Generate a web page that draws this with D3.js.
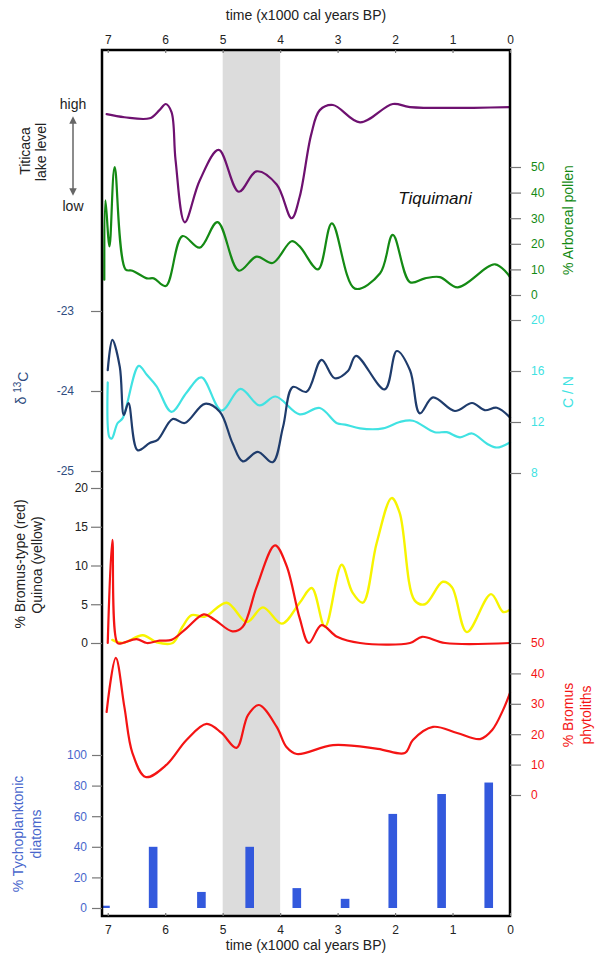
<!DOCTYPE html>
<html>
<head>
<meta charset="utf-8">
<script src="https://cdn.jsdelivr.net/npm/d3@7"></script>
<style>
  body { margin: 0; background: #fff; }
  svg { font-family: "Liberation Sans", Arial, sans-serif; }
</style>
</head>
<body>
<div id="chart"></div>
<script>
// ages in ka (x1000 cal years BP)
const timeTicks = [7, 6, 5, 4, 3, 2, 1, 0];
const shadeBand = [5, 4];

// Titicaca lake level (0 = low, 1 = high)
const lakeAge = [7.02, 6.71, 6.27, 6.10, 5.99, 5.89, 5.82, 5.66, 5.40, 5.07, 4.72, 4.41, 4.06, 3.80, 3.66, 3.46, 3.31, 3.08, 2.61, 2.04, 1.74, 0];
const lakeLevel = [0.90, 0.87, 0.86, 0.94, 1.0, 0.92, 0.45, -0.16, 0.25, 0.55, 0.14, 0.34, 0.21, -0.12, 0.09, 0.70, 0.94, 0.99, 0.82, 1.0, 0.97, 0.97];

// % arboreal pollen
const pollenAge = [7.06, 7.04, 6.97, 6.88, 6.69, 6.57, 6.32, 6.20, 5.99, 5.70, 5.40, 5.09, 4.72, 4.41, 4.13, 3.80, 3.66, 3.34, 3.10, 2.70, 2.26, 2.04, 1.74, 1.48, 1.22, 0.91, 0.26, 0];
const pollen = [6, 37, 19, 50, 10, 9.5, 6.5, 6.5, 3.5, 23, 18.5, 28.5, 9.5, 15, 12.5, 21, 19, 10, 28, 2.5, 8.5, 23.5, 5, 6.5, 7, 3, 12, 7];
const pollenTicks = [0, 10, 20, 30, 40, 50];

// d13C
const d13Age = [7.00, 6.92, 6.79, 6.72, 6.64, 6.48, 6.27, 6.13, 5.87, 5.66, 5.31, 5.05, 4.83, 4.65, 4.39, 4.13, 3.95, 3.78, 3.54, 3.28, 3.05, 2.82, 2.68, 2.18, 1.97, 1.74, 1.57, 1.34, 0.96, 0.66, 0.44, 0.23, 0];
const d13 = [-23.74, -23.36, -23.70, -24.30, -24.15, -24.74, -24.65, -24.61, -24.35, -24.40, -24.16, -24.26, -24.65, -24.88, -24.76, -24.89, -24.45, -23.95, -24.01, -23.61, -23.84, -23.75, -23.56, -23.98, -23.50, -23.74, -24.28, -24.08, -24.25, -24.15, -24.24, -24.21, -24.33];
const d13Ticks = [-23, -24, -25];

// C/N
const cnAge = [7.00, 6.97, 6.93, 6.83, 6.74, 6.46, 6.32, 6.15, 5.89, 5.63, 5.37, 5.02, 4.69, 4.36, 4.08, 3.66, 3.31, 3.01, 2.87, 2.61, 2.21, 1.92, 1.69, 1.31, 1.10, 0.87, 0.66, 0.40, 0.23, 0];
const cn = [15.1, 10.8, 10.7, 11.9, 12.3, 16.4, 15.7, 14.8, 12.8, 14.3, 15.5, 12.9, 14.6, 13.3, 14.0, 12.6, 13.1, 11.9, 11.8, 11.5, 11.5, 12.0, 12.1, 11.2, 11.2, 10.8, 11.1, 10.3, 10.0, 10.4];
const cnTicks = [8, 12, 16, 20];

// % Bromus-type pollen (red) and Quinoa (yellow)
const bromAge = [7.00, 6.92, 6.83, 6.74, 6.50, 6.32, 6.10, 5.89, 5.63, 5.33, 5.14, 4.83, 4.65, 4.41, 4.09, 3.89, 3.66, 3.50, 3.28, 3.01, 2.61, 1.74, 1.53, 1.13, 0];
const bromus = [0, 13.3, 0, 0, 0.5, 0, 0.3, 0.4, 1.9, 3.7, 3.0, 1.5, 2.1, 7.2, 12.6, 10.0, 3.2, 0, 2.3, 0.8, 0, 0, 0.8, 0, 0];
const quinoaAge = [6.92, 6.74, 6.39, 6.15, 5.87, 5.70, 5.54, 5.31, 4.93, 4.58, 4.30, 3.97, 3.66, 3.45, 3.22, 2.93, 2.74, 2.56, 2.32, 2.06, 1.92, 1.66, 1.48, 1.17, 1.01, 0.75, 0.33, 0.12, 0];
const quinoa = [0.4, 0, 1.0, 0.1, 0, 2.1, 3.6, 3.4, 5.2, 2.7, 4.6, 2.5, 5.2, 7.1, 2.1, 10.1, 6.5, 5.2, 12.9, 18.7, 16.8, 5.5, 5.0, 7.9, 7.2, 1.4, 6.3, 4.0, 4.3];
const pollenTypeTicks = [0, 5, 10, 15, 20];

// % Bromus phytoliths
const phytoAge = [7.02, 6.86, 6.71, 6.57, 6.34, 5.98, 5.63, 5.28, 5.02, 4.76, 4.56, 4.37, 4.06, 3.89, 3.71, 3.08, 2.30, 1.83, 1.69, 1.34, 0.92, 0.52, 0.31, 0.12, 0];
const phyto = [27.3, 45.1, 28.9, 13.8, 5.9, 9.9, 18.1, 23.4, 20.4, 15.5, 26.3, 29.6, 22.4, 15.8, 13.5, 16.4, 15.2, 13.8, 18.1, 22.4, 20.4, 18.4, 21.4, 28.0, 33.6];
const phytoTicks = [0, 10, 20, 30, 40, 50];

// % Tychoplanktonic diatoms (bars)
const diatomAge = [7.04, 6.21, 5.37, 4.53, 3.71, 2.87, 2.04, 1.19, 0.37];
const diatoms = [1.5, 40, 10.5, 40, 13, 6, 61.5, 74.5, 82];
const diatomTicks = [0, 20, 40, 60, 80, 100];

const W = 595, H = 955;
const frame = {left: 102, right: 510, top: 50, bottom: 916};

const svg = d3.select("#chart").append("svg")
    .attr("width", W)
    .attr("height", H);

const x = d3.scaleLinear().domain([7.1, 0]).range([frame.left, frame.right]);

// one y scale per record
const yLake = d3.scaleLinear().domain([0, 1]).range([206, 104]);
const yPollen = d3.scaleLinear().domain([0, 50]).range([295, 167]);
const yD13 = d3.scaleLinear().domain([-25, -23]).range([471, 311]);
const yCN = d3.scaleLinear().domain([8, 20]).range([473, 320]);
const yBrom = d3.scaleLinear().domain([0, 20]).range([643, 488]);
const yPhyto = d3.scaleLinear().domain([0, 50]).range([795, 643]);
const yDiat = d3.scaleLinear().domain([0, 100]).range([908, 755]);

const colors = {
    lake: "#6e1170",
    pollen: "#148a14",
    d13: "#1f3c6c",
    d13Text: "#2f4d80",
    cn: "#40e2e2",
    red: "#f41414",
    yellow: "#f7f400",
    diatom: "#3359dd",
    diatomText: "#4866cc",
    tick: "#777"
};

// plain hyphen for negatives, like the original
const plain = d => String(d);

// shaded interval 5-4 ka
svg.append("rect")
    .attr("x", x(shadeBand[0]))
    .attr("y", frame.top)
    .attr("width", x(shadeBand[1]) - x(shadeBand[0]))
    .attr("height", frame.bottom - frame.top)
    .attr("fill", "#dcdcdc");

function drawCurve(ages, values, yScale, color, width) {
    const line = d3.line()
        .x(d => x(d[0]))
        .y(d => yScale(d[1]))
        .curve(d3.curveCatmullRom.alpha(0.5));
    svg.append("path")
        .datum(d3.zip(ages, values))
        .attr("d", line)
        .attr("fill", "none")
        .attr("stroke", color)
        .attr("stroke-width", width)
        .attr("stroke-linejoin", "round")
        .attr("stroke-linecap", "round");
}

drawCurve(lakeAge, lakeLevel, yLake, colors.lake, 2.2);
drawCurve(pollenAge, pollen, yPollen, colors.pollen, 2.2);
drawCurve(cnAge, cn, yCN, colors.cn, 2.2);
drawCurve(d13Age, d13, yD13, colors.d13, 2.2);
drawCurve(quinoaAge, quinoa, yBrom, colors.yellow, 2.4);
drawCurve(bromAge, bromus, yBrom, colors.red, 2.2);
drawCurve(phytoAge, phyto, yPhyto, colors.red, 2.2);

// diatom bars
const barSpan = 0.15;
const barW = x(0) - x(barSpan);
svg.append("g")
    .selectAll("rect")
    .data(d3.zip(diatomAge, diatoms))
    .enter().append("rect")
    .attr("x", d => x(d[0]) - barW / 2)
    .attr("y", d => yDiat(d[1]))
    .attr("width", barW)
    .attr("height", d => yDiat(0) - yDiat(d[1]))
    .attr("fill", colors.diatom);

// frame
svg.append("rect")
    .attr("x", frame.left)
    .attr("y", frame.top)
    .attr("width", frame.right - frame.left)
    .attr("height", frame.bottom - frame.top)
    .attr("fill", "none")
    .attr("stroke", "#000")
    .attr("stroke-width", 2.5);

function styleAxis(g, textColor, fontSize) {
    g.select(".domain").remove();
    g.selectAll(".tick line").attr("stroke", colors.tick).attr("stroke-width", 1.2);
    g.selectAll(".tick text")
        .attr("fill", textColor)
        .style("font-size", fontSize + "px")
        .style("font-family", "Liberation Sans, Arial, sans-serif");
}

// time axes, top and bottom
svg.append("g")
    .attr("transform", `translate(0,${frame.top})`)
    .call(d3.axisTop(x).tickValues(timeTicks).tickFormat(plain).tickSize(-3).tickPadding(6))
    .call(g => styleAxis(g, "#222", 12));

svg.append("g")
    .attr("transform", `translate(0,${frame.bottom})`)
    .call(d3.axisBottom(x).tickValues(timeTicks).tickFormat(plain).tickSize(-3).tickPadding(9))
    .call(g => styleAxis(g, "#222", 12));

// left axes
svg.append("g")
    .attr("transform", `translate(${frame.left},0)`)
    .call(d3.axisLeft(yD13).tickValues(d13Ticks).tickFormat(plain).tickSize(11).tickPadding(17))
    .call(g => styleAxis(g, colors.d13Text, 12));

svg.append("g")
    .attr("transform", `translate(${frame.left},0)`)
    .call(d3.axisLeft(yBrom).tickValues(pollenTypeTicks).tickFormat(plain).tickSize(11).tickPadding(3))
    .call(g => styleAxis(g, "#222", 12));

svg.append("g")
    .attr("transform", `translate(${frame.left},0)`)
    .call(d3.axisLeft(yDiat).tickValues(diatomTicks).tickFormat(plain).tickSize(10).tickPadding(5))
    .call(g => styleAxis(g, colors.diatomText, 12));

// right axes
svg.append("g")
    .attr("transform", `translate(${frame.right},0)`)
    .call(d3.axisRight(yPollen).tickValues(pollenTicks).tickFormat(plain).tickSize(11).tickPadding(10))
    .call(g => styleAxis(g, colors.pollen, 12));

svg.append("g")
    .attr("transform", `translate(${frame.right},0)`)
    .call(d3.axisRight(yCN).tickValues(cnTicks).tickFormat(plain).tickSize(11).tickPadding(10))
    .call(g => styleAxis(g, colors.cn, 12));

svg.append("g")
    .attr("transform", `translate(${frame.right},0)`)
    .call(d3.axisRight(yPhyto).tickValues(phytoTicks).tickFormat(plain).tickSize(11).tickPadding(10))
    .call(g => styleAxis(g, colors.red, 12));

// axis titles
svg.append("text")
    .attr("x", (frame.left + frame.right) / 2)
    .attr("y", 20)
    .attr("text-anchor", "middle")
    .style("font-size", "14px")
    .attr("fill", "#222")
    .text("time (x1000 cal years BP)");

svg.append("text")
    .attr("x", (frame.left + frame.right) / 2)
    .attr("y", 950)
    .attr("text-anchor", "middle")
    .style("font-size", "14px")
    .attr("fill", "#222")
    .text("time (x1000 cal years BP)");

function vLabel(cx, cy, str, color) {
    return svg.append("text")
        .attr("transform", `translate(${cx},${cy}) rotate(-90)`)
        .attr("text-anchor", "middle")
        .attr("dy", "0.35em")
        .style("font-size", "14px")
        .attr("fill", color)
        .text(str);
}

vLabel(25, 151, "Titicaca", "#222");
vLabel(41, 152, "lake level", "#222");
vLabel(568, 220, "% Arboreal pollen", colors.pollen);
vLabel(568, 392, "C / N", colors.cn);
vLabel(20, 564, "% Bromus-type (red)", "#222");
vLabel(37, 565, "Quinoa (yellow)", "#222");
vLabel(568, 715, "% Bromus", colors.red);
vLabel(586, 715, "phytoliths", colors.red);
vLabel(18, 834, "% Tychoplanktonic", colors.diatomText);
vLabel(36, 834, "diatoms", colors.diatomText);

// delta 13C label with superscript
const dLab = svg.append("text")
    .attr("transform", "translate(21,388) rotate(-90)")
    .attr("text-anchor", "middle")
    .attr("dy", "0.35em")
    .style("font-size", "14px")
    .attr("fill", colors.d13Text);
dLab.append("tspan").text("δ ");
dLab.append("tspan").attr("dy", "-0.45em").style("font-size", "10px").text("13");
dLab.append("tspan").attr("dy", "0.45em").text("C");

// high / low arrow
const defs = svg.append("defs");
defs.append("marker")
    .attr("id", "arrowhead")
    .attr("viewBox", "0 0 10 10")
    .attr("refX", 5).attr("refY", 5)
    .attr("markerWidth", 5).attr("markerHeight", 5)
    .attr("orient", "auto-start-reverse")
    .append("path")
    .attr("d", "M0,0 L10,5 L0,10 z")
    .attr("fill", "#666");

svg.append("line")
    .attr("x1", 73).attr("x2", 73)
    .attr("y1", 120).attr("y2", 192)
    .attr("stroke", "#666")
    .attr("stroke-width", 1.5)
    .attr("marker-start", "url(#arrowhead)")
    .attr("marker-end", "url(#arrowhead)");

svg.append("text")
    .attr("x", 73).attr("y", 109)
    .attr("text-anchor", "middle")
    .style("font-size", "14px")
    .attr("fill", "#222")
    .text("high");

svg.append("text")
    .attr("x", 73).attr("y", 211)
    .attr("text-anchor", "middle")
    .style("font-size", "14px")
    .attr("fill", "#222")
    .text("low");

svg.append("text")
    .attr("x", 435).attr("y", 204)
    .attr("text-anchor", "middle")
    .style("font-size", "17px")
    .style("font-style", "italic")
    .attr("fill", "#111")
    .text("Tiquimani");
</script>
</body>
</html>
